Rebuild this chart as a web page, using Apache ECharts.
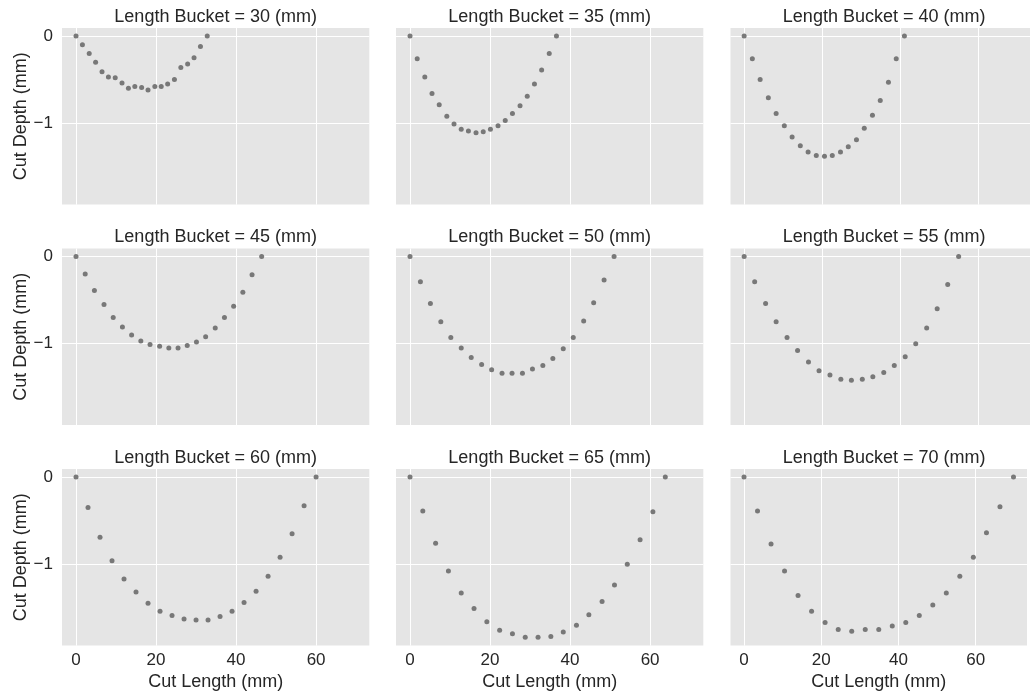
<!DOCTYPE html>
<html>
<head>
<meta charset="utf-8">
<script src="https://cdn.jsdelivr.net/npm/echarts@6/dist/echarts.min.js"></script>
<style>
  html, body { margin: 0; padding: 0; background: #ffffff; }
  #chart { width: 1030px; height: 696px; }
</style>
</head>
<body>
<div id="chart"></div>
<script>
// Cut profiles grouped by length bucket (mm)
const buckets = [30, 35, 40, 45, 50, 55, 60, 65, 70];

const len30 = [0, 1.6, 3.3, 4.9, 6.5, 8.1, 9.8, 11.5, 13.1, 14.7, 16.4, 18.0, 19.7, 21.3, 22.9, 24.6, 26.2, 27.9, 29.5, 31.1, 32.8];
const depth30 = [0, -0.10, -0.20, -0.30, -0.41, -0.47, -0.48, -0.54, -0.60, -0.58, -0.59, -0.62, -0.58, -0.58, -0.55, -0.50, -0.36, -0.32, -0.25, -0.12, 0];

const len35 = [0, 1.8, 3.7, 5.5, 7.3, 9.2, 11.0, 12.8, 14.6, 16.5, 18.3, 20.1, 22.0, 23.8, 25.6, 27.5, 29.3, 31.1, 32.9, 34.8, 36.6];
const depth35 = [0, -0.26, -0.47, -0.66, -0.79, -0.92, -1.01, -1.07, -1.09, -1.11, -1.10, -1.07, -1.03, -0.97, -0.89, -0.80, -0.69, -0.55, -0.39, -0.20, 0];

const len40 = [0, 2.1, 4.1, 6.2, 8.2, 10.3, 12.3, 14.4, 16.4, 18.5, 20.6, 22.6, 24.7, 26.7, 28.8, 30.8, 32.9, 34.9, 37.0, 39.0, 41.1];
const depth40 = [0, -0.26, -0.50, -0.71, -0.89, -1.03, -1.16, -1.26, -1.33, -1.37, -1.38, -1.37, -1.33, -1.27, -1.19, -1.06, -0.91, -0.74, -0.53, -0.26, 0];

const len45 = [0, 2.3, 4.6, 7.0, 9.3, 11.6, 13.9, 16.2, 18.5, 20.9, 23.2, 25.5, 27.8, 30.1, 32.4, 34.8, 37.1, 39.4, 41.7, 44.0, 46.4];
const depth45 = [0, -0.20, -0.39, -0.55, -0.70, -0.81, -0.90, -0.97, -1.01, -1.03, -1.05, -1.05, -1.02, -0.98, -0.92, -0.82, -0.70, -0.57, -0.41, -0.21, 0];

const len50 = [0, 2.6, 5.1, 7.7, 10.2, 12.8, 15.3, 17.9, 20.4, 23.0, 25.5, 28.1, 30.6, 33.2, 35.7, 38.3, 40.8, 43.4, 45.9, 48.5, 51.0];
const depth50 = [0, -0.29, -0.54, -0.75, -0.93, -1.05, -1.16, -1.24, -1.30, -1.34, -1.34, -1.34, -1.29, -1.25, -1.17, -1.06, -0.93, -0.74, -0.53, -0.27, 0];

const len55 = [0, 2.7, 5.5, 8.2, 11.0, 13.7, 16.5, 19.2, 22.0, 24.8, 27.5, 30.3, 33.0, 35.8, 38.5, 41.3, 44.0, 46.8, 49.5, 52.2, 55.0];
const depth55 = [0, -0.29, -0.54, -0.75, -0.93, -1.08, -1.21, -1.31, -1.36, -1.41, -1.42, -1.41, -1.38, -1.33, -1.25, -1.15, -1.00, -0.82, -0.60, -0.32, 0];

const len60 = [0, 3.0, 6.0, 9.0, 12.0, 15.0, 18.0, 21.0, 24.0, 27.0, 30.0, 33.0, 36.0, 39.0, 42.0, 45.0, 48.0, 51.0, 54.0, 57.0, 60.0];
const depth60 = [0, -0.35, -0.69, -0.96, -1.17, -1.32, -1.45, -1.54, -1.59, -1.63, -1.64, -1.64, -1.60, -1.54, -1.44, -1.31, -1.14, -0.92, -0.65, -0.33, 0];

const len65 = [0, 3.2, 6.4, 9.6, 12.8, 16.0, 19.2, 22.4, 25.6, 28.8, 32.0, 35.2, 38.3, 41.6, 44.7, 48.0, 51.1, 54.3, 57.5, 60.7, 63.8];
const depth65 = [0, -0.39, -0.76, -1.08, -1.33, -1.51, -1.66, -1.76, -1.80, -1.84, -1.84, -1.83, -1.78, -1.70, -1.58, -1.43, -1.24, -1.00, -0.72, -0.40, 0];

const len70 = [0, 3.5, 7.0, 10.5, 14.0, 17.5, 21.0, 24.4, 27.9, 31.4, 34.9, 38.4, 41.9, 45.4, 48.9, 52.4, 55.9, 59.4, 62.8, 66.3, 69.8];
const depth70 = [0, -0.39, -0.77, -1.08, -1.36, -1.54, -1.67, -1.75, -1.77, -1.75, -1.75, -1.71, -1.67, -1.59, -1.47, -1.33, -1.14, -0.92, -0.64, -0.34, 0];

const lengths = [len30, len35, len40, len45, len50, len55, len60, len65, len70];
const depths = [depth30, depth35, depth40, depth45, depth50, depth55, depth60, depth65, depth70];

// Shared axis extents (5% margins around the data)
const xRange = [-3.5, 73.3];
const yRange = [-1.935, 0.092];

// Panel layout (px)
const colLeft = [62, 396, 730.5];
const rowTop = [28, 248.5, 469];
const panelW = 307.3;
const panelH = 176.6;

const FONT = 'Liberation Sans, Arial, sans-serif';
const TEXT = '#262626';

const grids = [], xAxes = [], yAxes = [], series = [], titles = [];

buckets.forEach((b, i) => {
  const r = Math.floor(i / 3), c = i % 3;
  grids.push({
    left: colLeft[c], top: rowTop[r], width: panelW, height: panelH,
    show: true, backgroundColor: '#e5e5e5', borderWidth: 0
  });
  xAxes.push({
    type: 'value', gridIndex: i, min: xRange[0], max: xRange[1],
    minInterval: 20, maxInterval: 20,
    axisLine: { show: false }, axisTick: { show: false },
    axisLabel: {
      show: r === 2, color: TEXT, fontFamily: FONT, fontSize: 17, margin: 6,
      formatter: v => (Math.abs(v % 20) < 1e-9 ? String(v) : '')
    },
    splitLine: { show: true, showMinLine: false, showMaxLine: false, lineStyle: { color: '#ffffff', width: 1 } },
    name: r === 2 ? 'Cut Length (mm)' : '', nameLocation: 'middle', nameGap: 27,
    nameTextStyle: { color: TEXT, fontFamily: FONT, fontSize: 18 }
  });
  yAxes.push({
    type: 'value', gridIndex: i, min: yRange[0], max: yRange[1],
    minInterval: 1, maxInterval: 1,
    axisLine: { show: false }, axisTick: { show: false },
    axisLabel: {
      show: c === 0, color: TEXT, fontFamily: FONT, fontSize: 17, margin: 9,
      formatter: v => (Math.abs(v - Math.round(v)) < 1e-9 ? (v < 0 ? '\u2212' + Math.abs(v) : String(v)) : '')
    },
    splitLine: { show: true, showMinLine: false, showMaxLine: false, lineStyle: { color: '#ffffff', width: 1 } },
    name: c === 0 ? 'Cut Depth (mm)' : '', nameLocation: 'middle', nameGap: 32, nameRotate: 90,
    nameTextStyle: { color: TEXT, fontFamily: FONT, fontSize: 18 }
  });
  series.push({
    type: 'scatter', xAxisIndex: i, yAxisIndex: i,
    symbol: 'circle', symbolSize: 5,
    itemStyle: { color: '#6b6b6b', opacity: 0.9 },
    data: lengths[i].map((x, k) => [x, depths[i][k]]),
    silent: true, animation: false
  });
  titles.push({
    text: 'Length Bucket = ' + b + ' (mm)',
    left: colLeft[c] + panelW / 2, top: rowTop[r] - 20, textAlign: 'center',
    padding: 0,
    textStyle: { color: TEXT, fontFamily: FONT, fontSize: 18, fontWeight: 'normal' }
  });
});

const chart = echarts.init(document.getElementById('chart'), null, { renderer: 'canvas' });
chart.setOption({
  animation: false,
  backgroundColor: '#ffffff',
  title: titles,
  grid: grids,
  xAxis: xAxes,
  yAxis: yAxes,
  series: series
});
</script>
</body>
</html>
